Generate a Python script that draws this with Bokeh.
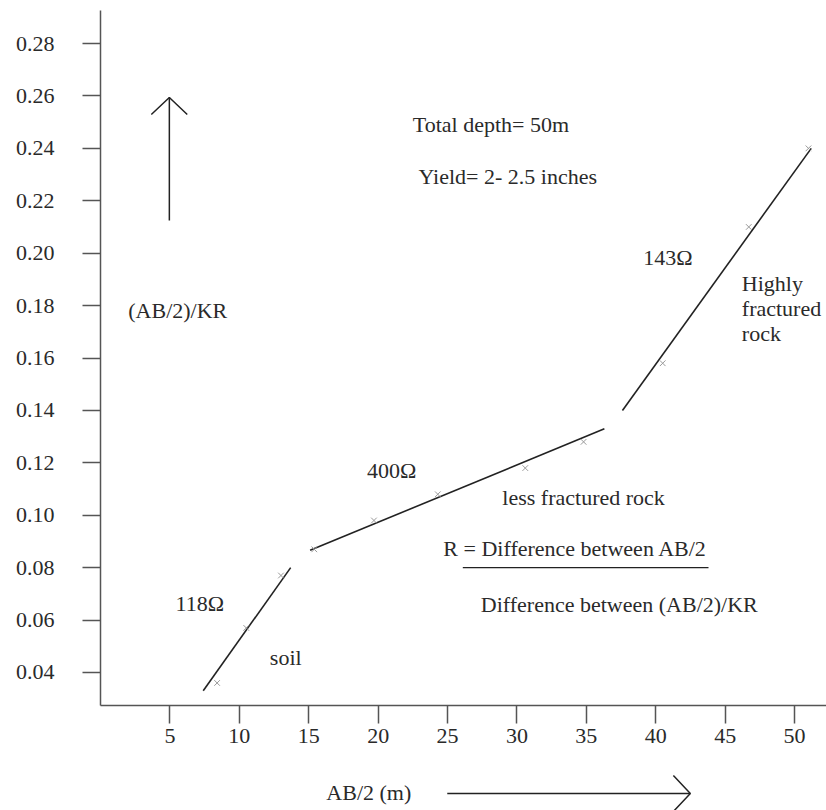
from bokeh.plotting import figure
from bokeh.models import Range1d, FixedTicker, PrintfTickFormatter
from bokeh.layouts import column
from bokeh.embed import file_html
from bokeh.resources import INLINE
from bokeh.core.properties import value

# ---- data ----
ab2 = [8.4, 10.5, 13.0, 15.4, 19.7, 24.3, 30.6, 34.8, 40.5, 46.7, 51.0]          # AB/2 (m)
ab2_kr = [0.036, 0.057, 0.077, 0.087, 0.098, 0.108, 0.118, 0.128, 0.158, 0.210, 0.240]  # (AB/2)/KR

# fitted straight-line segments (start / end)
seg_x0 = [7.4, 15.1, 37.6]
seg_y0 = [0.033, 0.0866, 0.140]
seg_x1 = [13.7, 36.3, 51.2]
seg_y1 = [0.080, 0.133, 0.240]

x_ticks = [5, 10, 15, 20, 25, 30, 35, 40, 45, 50]
y_ticks = [0.04, 0.06, 0.08, 0.10, 0.12, 0.14, 0.16, 0.18, 0.20, 0.22, 0.24, 0.26, 0.28]

# annotation texts
ann_text = ["Total depth= 50m", "Yield= 2- 2.5 inches", "(AB/2)/KR", "143\u03a9",
            "Highly", "fractured", "rock", "400\u03a9", "less fractured rock",
            "R = Difference between AB/2", "Difference between (AB/2)/KR",
            "118\u03a9", "soil"]
ann_x = [22.5, 22.9, 2.0, 39.1, 46.2, 46.2, 46.2, 19.2, 28.95, 24.7, 27.4, 5.4, 12.2]
ann_y = [0.2491, 0.2293, 0.1781, 0.1983, 0.1884, 0.1789, 0.1693, 0.1171, 0.1068,
         0.0873, 0.0659, 0.0663, 0.0457]

FONT = "Liberation Serif"
TXT = "#2a2a2a"
AX = "#555555"

p = figure(width=826, height=760,
           x_range=Range1d(0, 52.3), y_range=Range1d(0.0274, 0.2926),
           output_backend="svg", toolbar_location=None,
           min_border_left=100, min_border_right=0, min_border_top=10, min_border_bottom=55)
p.outline_line_color = None
p.xgrid.visible = False
p.ygrid.visible = False

for ax in (p.xaxis[0], p.yaxis[0]):
    ax.axis_line_color = AX
    ax.axis_line_width = 1.5
    ax.major_tick_line_color = AX
    ax.major_tick_line_width = 1.5
    ax.major_tick_out = 18
    ax.major_tick_in = 0
    ax.minor_tick_line_color = None
    ax.major_label_text_font = FONT
    ax.major_label_text_font_size = "22px"
    ax.major_label_text_color = TXT
p.xaxis.ticker = FixedTicker(ticks=x_ticks)
p.yaxis.ticker = FixedTicker(ticks=y_ticks)
p.yaxis.formatter = PrintfTickFormatter(format="%.2f")
p.xaxis.major_label_standoff = 5
p.yaxis.major_label_standoff = 28

# fitted lines and measured points
p.segment(seg_x0, seg_y0, seg_x1, seg_y1, line_color="#222222", line_width=1.6)
p.scatter(ab2, ab2_kr, marker="x", size=8, line_color="#9a9a9a", line_width=1)

# fraction bar of the formula
p.segment([26.1], [0.080], [43.8], [0.080], line_color="#222222", line_width=1.3)

# upward arrow
p.multi_line([[4.96, 4.96], [3.66, 4.96, 6.25]],
             [[0.2125, 0.2594], [0.2529, 0.2594, 0.2529]],
             line_color="#222222", line_width=1.5)

p.text(ann_x, ann_y, text=ann_text, text_font=value(FONT), text_font_size=value("22px"),
       text_color=TXT, text_align="left", text_baseline="middle")

# bottom strip: axis title with arrow
p2 = figure(width=826, height=50, x_range=p.x_range, y_range=Range1d(0, 50),
            x_axis_type=None, y_axis_type=None,
            output_backend="svg", toolbar_location=None,
            min_border_left=100, min_border_right=0, min_border_top=0, min_border_bottom=0)
p2.outline_line_color = None
p2.xgrid.visible = False
p2.ygrid.visible = False
p2.text([16.27], [18], text=["AB/2  (m)"], text_font=value(FONT), text_font_size=value("22px"),
        text_color=TXT, text_align="left", text_baseline="middle")
p2.multi_line([[24.98, 42.49], [41.27, 42.49, 41.27]],
              [[17, 17], [35, 17, -1]], line_color="#222222", line_width=1.5)

layout = column(p, p2)
open("out.html", "w").write(file_html(layout, INLINE))
